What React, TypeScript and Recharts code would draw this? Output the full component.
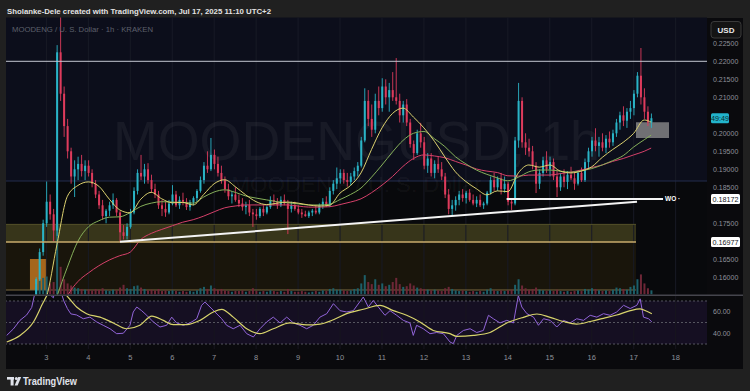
import React from "react";
import { ComposedChart, Bar, Line, XAxis, YAxis, ReferenceLine, ReferenceArea } from "recharts";

const W = 750;
const H = 391;
const FONT = "'Liberation Sans', Arial, sans-serif";

// ---------- time axis: hours since Jul 3, 00:00 (UTC+2) ----------
const DAY_TICKS = [0, 24, 48, 72, 96, 120, 144, 168, 192, 216, 240, 264, 288, 312, 336, 360];
const DAY_LABELS = ["3", "4", "5", "6", "7", "8", "9", "10", "11", "12", "13", "14", "15", "16", "17", "18"];
const CANDLE_START_HOUR = -6;
const CANDLE_STEP_HOURS = 2;

// ---------- candles (2h), Jul 2 18:00 -> Jul 17 10:00 ----------
const OPEN = [
  0.1550, 0.1595, 0.1670,
  0.1750, 0.1810, 0.1775, 0.1730, 0.2225, 0.2110, 0.2020, 0.1950, 0.1880, 0.1900, 0.1915, 0.1895,
  0.1910, 0.1890, 0.1860, 0.1830, 0.1800, 0.1770, 0.1785, 0.1800, 0.1815, 0.1780, 0.1725, 0.1715,
  0.1740, 0.1780, 0.1840, 0.1890, 0.1880, 0.1900, 0.1870, 0.1845, 0.1830, 0.1800, 0.1790, 0.1780,
  0.1805, 0.1830, 0.1800, 0.1815, 0.1810, 0.1795, 0.1808, 0.1820, 0.1840, 0.1870, 0.1910, 0.1900,
  0.1940, 0.1915, 0.1890, 0.1870, 0.1845, 0.1825, 0.1830, 0.1815, 0.1805, 0.1795, 0.1800, 0.1780,
  0.1775, 0.1770, 0.1790, 0.1780, 0.1795, 0.1815, 0.1810, 0.1800, 0.1815, 0.1805, 0.1790, 0.1800,
  0.1790, 0.1780, 0.1775, 0.1770, 0.1780, 0.1785, 0.1780, 0.1800, 0.1810, 0.1800, 0.1840, 0.1860,
  0.1875, 0.1890, 0.1870, 0.1865, 0.1880, 0.1895, 0.1910, 0.1980, 0.2090, 0.2040, 0.2010, 0.2090,
  0.2070, 0.2130, 0.2100, 0.2120, 0.2100, 0.2090, 0.2050, 0.2080, 0.2030, 0.1970, 0.1945, 0.2000,
  0.1975, 0.1910, 0.1930, 0.1890, 0.1915, 0.1900, 0.1880, 0.1830, 0.1790, 0.1800, 0.1815, 0.1830,
  0.1820, 0.1835, 0.1815, 0.1805, 0.1815, 0.1800, 0.1805, 0.1835, 0.1870, 0.1850, 0.1875, 0.1845,
  0.1860, 0.1810, 0.1805, 0.1980, 0.2090, 0.1975, 0.1960, 0.1950, 0.1910, 0.1860, 0.1890, 0.1925,
  0.1900, 0.1920, 0.1880, 0.1850, 0.1880, 0.1865, 0.1885, 0.1875, 0.1860, 0.1890, 0.1870, 0.1920,
  0.1950, 0.1980, 0.1965, 0.1975, 0.1960, 0.1985, 0.1975, 0.2000, 0.2030, 0.2050, 0.2035, 0.2060,
  0.2070, 0.2110, 0.2160, 0.2100, 0.2060, 0.2030,
];
const HIGH = [
  0.1600, 0.1680, 0.1760,
  0.1866, 0.1830, 0.1790, 0.2245, 0.2360, 0.2130, 0.2040, 0.1960, 0.1925, 0.1935, 0.1940, 0.1925,
  0.1925, 0.1900, 0.1870, 0.1840, 0.1815, 0.1790, 0.1810, 0.1833, 0.1820, 0.1785, 0.1745, 0.1750,
  0.1790, 0.1850, 0.1900, 0.1940, 0.1915, 0.1917, 0.1885, 0.1860, 0.1840, 0.1815, 0.1810, 0.1815,
  0.1856, 0.1840, 0.1825, 0.1835, 0.1820, 0.1815, 0.1825, 0.1845, 0.1880, 0.1920, 0.1950, 0.1987,
  0.1955, 0.1935, 0.1910, 0.1880, 0.1860, 0.1840, 0.1850, 0.1830, 0.1820, 0.1810, 0.1815, 0.1790,
  0.1790, 0.1795, 0.1800, 0.1800, 0.1825, 0.1830, 0.1820, 0.1825, 0.1830, 0.1815, 0.1810, 0.1810,
  0.1800, 0.1790, 0.1785, 0.1785, 0.1790, 0.1800, 0.1805, 0.1820, 0.1825, 0.1850, 0.1870, 0.1905,
  0.1900, 0.1900, 0.1890, 0.1890, 0.1905, 0.1920, 0.1990, 0.2125, 0.2120, 0.2080, 0.2110, 0.2130,
  0.2153, 0.2150, 0.2140, 0.2170, 0.2209, 0.2110, 0.2090, 0.2095, 0.2040, 0.1980, 0.2010, 0.2029,
  0.1990, 0.1945, 0.1945, 0.1925, 0.1935, 0.1920, 0.1890, 0.1845, 0.1815, 0.1825, 0.1840, 0.1845,
  0.1840, 0.1845, 0.1830, 0.1825, 0.1830, 0.1810, 0.1840, 0.1880, 0.1890, 0.1880, 0.1890, 0.1880,
  0.1865, 0.1820, 0.1990, 0.2140, 0.2100, 0.2000, 0.1985, 0.1965, 0.1920, 0.1900, 0.1935, 0.1950,
  0.1935, 0.1930, 0.1900, 0.1890, 0.1900, 0.1895, 0.1907, 0.1890, 0.1895, 0.1905, 0.1930, 0.1960,
  0.1990, 0.2014, 0.1990, 0.2000, 0.1995, 0.2005, 0.2010, 0.2040, 0.2060, 0.2075, 0.2070, 0.2090,
  0.2120, 0.2170, 0.2237, 0.2125, 0.2075, 0.2055,
];
const LOW = [
  0.1545, 0.1590, 0.1660,
  0.1740, 0.1760, 0.1700, 0.1715, 0.2090, 0.1990, 0.1930, 0.1860, 0.1823, 0.1870, 0.1880, 0.1870,
  0.1880, 0.1850, 0.1820, 0.1790, 0.1760, 0.1750, 0.1770, 0.1790, 0.1770, 0.1699, 0.1705, 0.1705,
  0.1735, 0.1775, 0.1830, 0.1870, 0.1860, 0.1860, 0.1835, 0.1820, 0.1790, 0.1770, 0.1768, 0.1775,
  0.1800, 0.1795, 0.1790, 0.1800, 0.1787, 0.1785, 0.1800, 0.1810, 0.1835, 0.1860, 0.1890, 0.1895,
  0.1900, 0.1880, 0.1860, 0.1835, 0.1815, 0.1805, 0.1810, 0.1795, 0.1785, 0.1775, 0.1770, 0.1740,
  0.1760, 0.1765, 0.1770, 0.1775, 0.1790, 0.1800, 0.1790, 0.1795, 0.1800, 0.1720, 0.1780, 0.1785,
  0.1775, 0.1765, 0.1768, 0.1765, 0.1770, 0.1775, 0.1775, 0.1790, 0.1795, 0.1795, 0.1830, 0.1845,
  0.1860, 0.1860, 0.1852, 0.1855, 0.1870, 0.1880, 0.1905, 0.1975, 0.2020, 0.1990, 0.2000, 0.2050,
  0.2060, 0.2080, 0.2060, 0.2090, 0.2080, 0.2030, 0.2030, 0.2020, 0.1960, 0.1926, 0.1940, 0.1960,
  0.1900, 0.1890, 0.1880, 0.1875, 0.1890, 0.1870, 0.1820, 0.1775, 0.1773, 0.1785, 0.1800, 0.1810,
  0.1805, 0.1810, 0.1800, 0.1795, 0.1795, 0.1790, 0.1800, 0.1830, 0.1840, 0.1840, 0.1830, 0.1835,
  0.1800, 0.1787, 0.1800, 0.1960, 0.1960, 0.1940, 0.1935, 0.1900, 0.1834, 0.1845, 0.1880, 0.1890,
  0.1880, 0.1870, 0.1823, 0.1840, 0.1850, 0.1845, 0.1870, 0.1843, 0.1855, 0.1865, 0.1865, 0.1900,
  0.1935, 0.1950, 0.1935, 0.1950, 0.1945, 0.1960, 0.1965, 0.1990, 0.2010, 0.2020, 0.2015, 0.2040,
  0.2050, 0.2100, 0.2080, 0.2040, 0.2020, 0.2015,
];
const CLOSE = [
  0.1595, 0.1670, 0.1750,
  0.1810, 0.1775, 0.1730, 0.2225, 0.2110, 0.2020, 0.1950, 0.1880, 0.1900, 0.1915, 0.1895, 0.1910,
  0.1890, 0.1860, 0.1830, 0.1800, 0.1770, 0.1785, 0.1800, 0.1815, 0.1780, 0.1725, 0.1715, 0.1740,
  0.1780, 0.1840, 0.1890, 0.1880, 0.1900, 0.1870, 0.1845, 0.1830, 0.1800, 0.1790, 0.1780, 0.1805,
  0.1830, 0.1800, 0.1815, 0.1810, 0.1795, 0.1808, 0.1820, 0.1840, 0.1870, 0.1910, 0.1900, 0.1940,
  0.1915, 0.1890, 0.1870, 0.1845, 0.1825, 0.1830, 0.1815, 0.1805, 0.1795, 0.1800, 0.1780, 0.1775,
  0.1770, 0.1790, 0.1780, 0.1795, 0.1815, 0.1810, 0.1800, 0.1815, 0.1805, 0.1790, 0.1800, 0.1790,
  0.1780, 0.1775, 0.1770, 0.1780, 0.1785, 0.1780, 0.1800, 0.1810, 0.1800, 0.1840, 0.1860, 0.1875,
  0.1890, 0.1870, 0.1865, 0.1880, 0.1895, 0.1910, 0.1980, 0.2090, 0.2040, 0.2010, 0.2090, 0.2070,
  0.2130, 0.2100, 0.2120, 0.2100, 0.2090, 0.2050, 0.2080, 0.2030, 0.1970, 0.1945, 0.2000, 0.1975,
  0.1910, 0.1930, 0.1890, 0.1915, 0.1900, 0.1880, 0.1830, 0.1790, 0.1800, 0.1815, 0.1830, 0.1820,
  0.1835, 0.1815, 0.1805, 0.1815, 0.1800, 0.1805, 0.1835, 0.1870, 0.1850, 0.1875, 0.1845, 0.1860,
  0.1810, 0.1805, 0.1980, 0.2090, 0.1975, 0.1960, 0.1950, 0.1910, 0.1860, 0.1890, 0.1925, 0.1900,
  0.1920, 0.1880, 0.1850, 0.1880, 0.1865, 0.1885, 0.1875, 0.1860, 0.1890, 0.1870, 0.1920, 0.1950,
  0.1980, 0.1965, 0.1975, 0.1960, 0.1985, 0.1975, 0.2000, 0.2030, 0.2050, 0.2035, 0.2060, 0.2070,
  0.2110, 0.2160, 0.2100, 0.2060, 0.2030, 0.2042,
];
const VOLUME = [
  1.5, 2.0, 2.4,
  2.6, 1.6, 1.8, 10.0, 4.0, 2.2, 1.6, 1.3, 1.0, 0.9, 0.8, 0.7,
  0.7, 0.6, 0.8, 0.7, 0.9, 0.6, 0.5, 0.7, 0.6, 1.0, 1.4, 0.9,
  0.8, 1.2, 1.3, 1.0, 0.8, 0.6, 0.7, 0.6, 0.8, 0.5, 0.6, 0.5,
  0.6, 0.5, 0.4, 0.5, 0.4, 0.5, 0.4, 0.6, 0.9, 1.1, 0.8, 1.3,
  0.9, 0.7, 0.8, 0.6, 0.5, 0.4, 0.5, 0.5, 0.6, 0.4, 0.5, 0.9,
  0.5, 0.4, 0.5, 0.4, 0.6, 0.5, 0.4, 0.5, 0.4, 0.8, 0.5, 0.4,
  0.4, 0.5, 0.4, 0.3, 0.4, 0.5, 0.4, 0.6, 0.5, 0.8, 0.9, 0.7,
  0.7, 0.6, 0.5, 0.6, 0.8, 0.9, 1.6, 2.8, 1.8, 1.5, 2.2, 1.4,
  1.6, 1.2, 1.4, 1.8, 2.4, 1.5, 1.1, 1.2, 1.6, 1.3, 1.0, 0.9,
  0.8, 0.7, 0.6, 0.7, 0.6, 0.5, 0.9, 1.1, 0.8, 0.6, 0.5, 0.6,
  0.5, 0.4, 0.5, 0.4, 0.5, 0.4, 0.7, 0.9, 0.6, 0.5, 0.6, 0.5,
  0.6, 0.7, 1.4, 2.2, 1.3, 0.9, 0.7, 0.8, 1.0, 0.7, 0.6, 0.5,
  0.6, 0.5, 0.7, 0.5, 0.4, 0.5, 0.4, 0.5, 0.6, 0.5, 0.8, 0.7,
  0.9, 0.8, 0.6, 0.5, 0.6, 0.5, 0.7, 1.0, 0.9, 0.8, 0.7, 1.1,
  1.3, 2.2, 2.9, 1.6, 0.9, 0.6,
];

// ---------- moving averages (read every 6h) ----------
const MA_HOURS = [
  -6, 0, 6, 12, 18, 24, 30, 36, 42, 48, 54, 60, 66, 72, 78, 84, 90, 96, 102, 108,
  114, 120, 126, 132, 138, 144, 150, 156, 162, 168, 174, 180, 186, 192, 198, 204, 210, 216, 222, 228,
  234, 240, 246, 252, 258, 264, 270, 276, 282, 288, 294, 300, 306, 312, 318, 324, 330, 336, 342, 346,
];
const MA_FAST = [
  0.1500, 0.1545, 0.1690, 0.1825, 0.1855, 0.1865, 0.1853, 0.1817, 0.1787, 0.1779, 0.1817, 0.1836, 0.1818, 0.1807, 0.1808, 0.1801, 0.1830, 0.1860, 0.1871, 0.1852,
  0.1829, 0.1810, 0.1802, 0.1806, 0.1809, 0.1806, 0.1801, 0.1798, 0.1800, 0.1834, 0.1855, 0.1890, 0.1955, 0.2015, 0.2055, 0.2070, 0.2045, 0.2015, 0.1978, 0.1934,
  0.1893, 0.1866, 0.1846, 0.1829, 0.1840, 0.1838, 0.1890, 0.1912, 0.1906, 0.1912, 0.1895, 0.1890, 0.1895, 0.1907, 0.1933, 0.1955, 0.1975, 0.2000, 0.2037, 0.2031,
];
const MA_MID = [
  0.1400, 0.1450, 0.1546, 0.1628, 0.1700, 0.1740, 0.1757, 0.1767, 0.1768, 0.1780, 0.1797, 0.1806, 0.1810, 0.1809, 0.1808, 0.1806, 0.1823, 0.1837, 0.1843, 0.1836,
  0.1826, 0.1820, 0.1815, 0.1810, 0.1807, 0.1804, 0.1801, 0.1801, 0.1803, 0.1816, 0.1830, 0.1848, 0.1878, 0.1912, 0.1948, 0.1980, 0.2000, 0.2005, 0.1985, 0.1963,
  0.1935, 0.1915, 0.1898, 0.1886, 0.1876, 0.1868, 0.1878, 0.1893, 0.1898, 0.1898, 0.1895, 0.1892, 0.1896, 0.1902, 0.1912, 0.1924, 0.1938, 0.1962, 0.1982, 0.1995,
];
const MA_SLOW = [
  0.1350, 0.1400, 0.1470, 0.1547, 0.1588, 0.1612, 0.1632, 0.1648, 0.1660, 0.1670, 0.1705, 0.1722, 0.1733, 0.1743, 0.1753, 0.1760, 0.1770, 0.1782, 0.1793, 0.1798,
  0.1801, 0.1801, 0.1801, 0.1801, 0.1801, 0.1798, 0.1795, 0.1795, 0.1796, 0.1802, 0.1809, 0.1818, 0.1835, 0.1856, 0.1880, 0.1908, 0.1930, 0.1940, 0.1937, 0.1932,
  0.1922, 0.1912, 0.1901, 0.1895, 0.1891, 0.1882, 0.1881, 0.1884, 0.1884, 0.1884, 0.1888, 0.1892, 0.1898, 0.1905, 0.1912, 0.1922, 0.1930, 0.1940, 0.1950, 0.1959,
];

// ---------- RSI ----------
const RSI_HOURS = [
  -22.7, -18.9, -15.1, -11.3, -8.4, -6.5, -3.5, -0.5, 2, 4, 6, 8, 10, 12, 14, 17.3, 21.1, 24.9, 28.8, 32.5,
  36.4, 40.2, 44, 47.8, 49.7, 51.7, 54.5, 57.4, 61.2, 65, 68.8, 71.7, 74.5, 78.3, 82.2, 86, 88.8, 90.7, 93.6, 96.4,
  100.3, 103.1, 106.9, 110.8, 114.6, 118.4, 122.2, 126, 129.8, 133.7, 137.5, 141.3, 145.1, 148.9, 152.7, 156.5, 160.4, 164.2, 168, 171.8,
  175.6, 181.3, 184.2, 187, 189.9, 193.7, 196.6, 200.4, 204.2, 208, 209.9, 211.8, 215.6, 219.5, 223.3, 227.1, 230.9, 232.8, 234.8, 238.6,
  242.4, 246.2, 250, 252.9, 255.7, 259.5, 263.4, 267.2, 270, 272, 274.9, 278.7, 281.5, 284.4, 288.2, 292, 295.8, 299.6, 303.4, 307.3,
  311.1, 314.9, 318.7, 322.5, 326.3, 330.2, 334, 337.8, 339.7, 341.6, 344.5, 346.4,
];
const RSI_VALUES = [
  38, 44, 52, 57, 64, 78, 86, 82, 76, 73, 90, 80, 70, 63, 58, 57, 53.5, 55, 50.5, 47.4,
  44.2, 39.6, 40, 47.4, 59.8, 64.4, 61, 56.7, 50.5, 45.8, 47.4, 55, 49.6, 47.4, 49.6, 53.5, 66, 69, 64.4, 59.8,
  53.5, 47.4, 44.2, 47.4, 39.6, 36.5, 44.2, 50.5, 55, 49.6, 55, 49.6, 47.4, 44.2, 47.4, 55, 58.2, 67.5, 61, 59.8,
  61, 73.7, 64.4, 70.5, 64.4, 56.7, 61, 56.7, 52, 49.6, 38, 47.4, 44.2, 39.6, 40.7, 39.6, 31.9, 30.3, 38, 42.6,
  44.2, 40.7, 42.6, 56.7, 53.5, 49.6, 52, 49.6, 75, 64.4, 58.2, 55, 47.4, 53.5, 52, 45.8, 52, 49.6, 53.5, 52,
  56.7, 55, 58.2, 56.7, 59.8, 66, 63, 66, 72, 55, 53.5, 50.5,
];
const RSI_MA_HOURS = [
  -22.7, -15.1, -7.4, -1.7, 1, 6, 11.6, 17.3, 23, 30.7, 38.3, 45.9, 53.5, 60.3, 66.9, 72.6, 80.3, 87.9, 95.5, 100.3,
  106.9, 114.6, 122.2, 129.8, 139.4, 148.9, 156.5, 164.2, 171.8, 181.3, 190.8, 198.5, 206.1, 213.7, 221.3, 230.9, 234.8, 244.3, 253.8, 263.4,
  272.9, 280.6, 288.2, 295.8, 303.4, 311.1, 318.7, 326.3, 334, 339.7, 343.5, 346.4,
];
const RSI_MA_VALUES = [
  31.9, 38, 50.5, 69, 77, 84, 75, 64.4, 58.2, 55, 49.6, 44.2, 47.4, 56, 52, 48, 48, 52, 59.8, 62.3,
  55, 44.2, 39.6, 44.2, 49.6, 47.7, 48.5, 52.5, 58.2, 62.3, 66, 61, 56.7, 50.5, 42.6, 39.6, 37.1, 38, 40.7, 49.6,
  54.8, 57.9, 54.8, 50.9, 48.5, 50.9, 53.9, 57, 61, 62.6, 60.4, 58.2,
];

// ---------- axis ticks (those hidden behind price tags are left out, as in the source) ----------
const PRICE_TICKS = [0.16, 0.165, 0.175, 0.185, 0.19, 0.195, 0.2, 0.21, 0.215, 0.22, 0.225];
const RSI_TICKS = [40, 60];

// ---------- drawings (price levels, zones, trendline) ----------
const LEVEL_TOP = 0.22;
const LEVEL_NAVY = 0.18675;
const LEVEL_WO = 0.18172;
const LEVEL_ZONE_BOTTOM = 0.16977;
const ZONE_TOP = 0.1747;
const ZONE_FLOOR = 0.15647;
const ZONE_END_HOUR = 337.3;
const WO_START_HOUR = 263.3;
const WO_END_HOUR = 352.8;
const TREND_START = { t: 42.1, p: 0.1699 };
const TREND_END = { t: 337.9, p: 0.181 };
const ORANGE_BOX = { t1: -9.4, t2: 0.3, p1: 0.15647, p2: 0.1651 };
const GRAY_BOX = { t1: 337.3, t2: 356.2, p1: 0.1987, p2: 0.2031 };
const LAST_PRICE = 0.2042;

// ---------- domains / layout ----------
const X_DOMAIN: [number, number] = [-23.11, 377.94];
const PRICE_DOMAIN: [number, number] = [0.15522, 0.23217];
const VOLUME_DOMAIN: [number, number] = [0, 40];
const RSI_DOMAIN: [number, number] = [25.35, 74.65];
const PRICE_MARGIN_HIDDEN = { top: 17.5, right: 43, bottom: 96.5, left: 6 };
const PRICE_MARGIN_AXIS = { top: 17.5, right: 7, bottom: 96.5, left: 6 };
const RSI_MARGIN = { top: 296, right: 7, bottom: 22, left: 6 };

const UP = "#2ab3c6";
const DOWN = "#de3b5c";
const VOL_UP = "#1d5f69";
const VOL_DOWN = "#6e2737";

type Row = { t: number; o: number; h: number; l: number; c: number; range: [number, number]; v: number; fast?: number; mid?: number; slow?: number };

const priceRows: Row[] = CLOSE.map((c, i) => ({
  t: CANDLE_START_HOUR + i * CANDLE_STEP_HOURS,
  o: OPEN[i],
  h: HIGH[i],
  l: LOW[i],
  c,
  range: [LOW[i], HIGH[i]] as [number, number],
  v: VOLUME[i],
}));
MA_HOURS.forEach((t, i) => {
  const row = priceRows.find((r) => r.t === t);
  if (row) {
    row.fast = MA_FAST[i];
    row.mid = MA_MID[i];
    row.slow = MA_SLOW[i];
  }
});

const rsiRows: { t: number; rsi?: number; rsiMa?: number }[] = [
  ...RSI_HOURS.map((t, i) => ({ t, rsi: RSI_VALUES[i] })),
  ...RSI_MA_HOURS.map((t, i) => ({ t, rsiMa: RSI_MA_VALUES[i] })),
].sort((a, b) => a.t - b.t);

const Candle = (props: any) => {
  const { x, y, width, height, payload } = props;
  if (!payload || payload.h == null || x == null || y == null) return null;
  const top = Math.min(y, y + height);
  const span = Math.abs(height);
  const { o, h, l, c } = payload;
  const r = h - l;
  const toPx = (v: number) => (r > 0 ? top + ((h - v) / r) * span : top);
  const color = c >= o ? UP : DOWN;
  const bTop = toPx(Math.max(o, c));
  const bBot = toPx(Math.min(o, c));
  const cx = x + width / 2;
  return (
    <g>
      <line x1={cx} x2={cx} y1={top} y2={top + span} stroke={color} strokeWidth={0.9} />
      <rect x={x} y={bTop} width={width} height={Math.max(0.8, bBot - bTop)} fill={color} />
    </g>
  );
};

const VolumeBar = (props: any) => {
  const { x, y, width, height, payload } = props;
  if (!payload || !height) return null;
  const top = Math.min(y, y + height);
  return <rect x={x} y={top} width={width} height={Math.abs(height)} fill={payload.c >= payload.o ? VOL_UP : VOL_DOWN} />;
};

const AxisTag = (props: any) => {
  const { viewBox, text, bg, fg, w } = props;
  if (!viewBox) return null;
  const x = viewBox.x + viewBox.width + 4;
  const y = viewBox.y;
  return (
    <g>
      <rect x={x} y={y - 5} width={w} height={10} fill={bg} rx={1.5} />
      <text x={x + w / 2} y={y + 2.6} textAnchor="middle" fontSize={7.2} fill={fg} fontFamily={FONT}>
        {text}
      </text>
    </g>
  );
};

const WoLabel = (props: any) => {
  const { viewBox } = props;
  if (!viewBox) return null;
  const x = viewBox.x + viewBox.width + 2;
  return (
    <text x={x} y={viewBox.y + 2.3} fontSize={6.5} fontWeight={700} fill="#ffffff" fontFamily={FONT}>
      WO ·
    </text>
  );
};

const abs = (top: number): React.CSSProperties => ({ position: "absolute", left: 0, top });

export default function App() {
  const xAxisHidden = <XAxis dataKey="t" type="number" domain={X_DOMAIN} allowDataOverflow hide />;
  return (
    <div style={{ position: "absolute", left: 0, top: 0, width: W, height: H, background: "#202020", overflow: "hidden", fontFamily: FONT }}>
      {/* chart panel background */}
      <div style={{ position: "absolute", left: 6, top: 17.5, width: 737, height: 351.5, background: "#0a0a0d" }} />

      {/* A: zones & grid */}
      <div style={abs(0)}>
        <ComposedChart width={W} height={H} data={priceRows} margin={PRICE_MARGIN_HIDDEN}>
          {xAxisHidden}
          <YAxis type="number" domain={PRICE_DOMAIN} allowDataOverflow hide />
          <ReferenceArea y1={LEVEL_NAVY} y2={PRICE_DOMAIN[1]} fill="#0c0e1b" fillOpacity={1} stroke="none" />
          <ReferenceArea y1={PRICE_DOMAIN[0]} y2={LEVEL_NAVY} fill="#08090c" fillOpacity={1} stroke="none" />
          <ReferenceArea x1={X_DOMAIN[0]} x2={ZONE_END_HOUR} y1={LEVEL_ZONE_BOTTOM} y2={ZONE_TOP} fill="#37351a" fillOpacity={1} stroke="none" />
          <ReferenceArea x1={X_DOMAIN[0]} x2={ZONE_END_HOUR} y1={ZONE_FLOOR} y2={LEVEL_ZONE_BOTTOM} fill="#19150b" fillOpacity={1} stroke="none" />
          <ReferenceArea x1={ORANGE_BOX.t1} x2={ORANGE_BOX.t2} y1={ORANGE_BOX.p1} y2={ORANGE_BOX.p2} fill="#a5661c" fillOpacity={1} stroke="none" />
          <ReferenceArea x1={GRAY_BOX.t1} x2={GRAY_BOX.t2} y1={GRAY_BOX.p1} y2={GRAY_BOX.p2} fill="#707074" fillOpacity={1} stroke="none" />
          {DAY_TICKS.map((t) => (
            <ReferenceLine key={t} x={t} stroke="#181a26" strokeWidth={1} />
          ))}
          <ReferenceLine y={LEVEL_NAVY} stroke="#222c4c" strokeWidth={1} />
          <ReferenceLine segment={[{ x: X_DOMAIN[0], y: ZONE_TOP }, { x: ZONE_END_HOUR, y: ZONE_TOP }]} stroke="#56532a" strokeWidth={1} />
          <ReferenceLine segment={[{ x: X_DOMAIN[0], y: ZONE_FLOOR }, { x: ZONE_END_HOUR, y: ZONE_FLOOR }]} stroke="#7d6a40" strokeWidth={1} />
        </ComposedChart>
      </div>

      {/* watermark */}
      <svg width={W} height={H} style={abs(0)}>
        <text x={356.5} y={160} textAnchor="middle" fontSize={56} fill="#ffffff" fillOpacity={0.05} fontFamily={FONT} textLength={487} lengthAdjust="spacingAndGlyphs">
          MOODENGUSD, 1h
        </text>
        <text x={356.5} y={192} textAnchor="middle" fontSize={22} fill="#ffffff" fillOpacity={0.05} fontFamily={FONT} textLength={250} lengthAdjust="spacingAndGlyphs">
          MOODENG / U. S. Dollar
        </text>
      </svg>

      {/* B: volume */}
      <div style={abs(0)}>
        <ComposedChart width={W} height={H} data={priceRows} margin={PRICE_MARGIN_HIDDEN}>
          {xAxisHidden}
          <YAxis type="number" domain={VOLUME_DOMAIN} allowDataOverflow hide />
          <Bar dataKey="v" barSize={2} shape={VolumeBar} isAnimationActive={false} />
        </ComposedChart>
      </div>

      {/* C: candles, MAs, drawings, price axis */}
      <div style={abs(0)}>
        <ComposedChart width={W} height={H} data={priceRows} margin={PRICE_MARGIN_AXIS}>
          {xAxisHidden}
          <YAxis
            type="number"
            orientation="right"
            width={36}
            domain={PRICE_DOMAIN}
            allowDataOverflow
            ticks={PRICE_TICKS}
            interval={0}
            tickFormatter={(v: number) => v.toFixed(5)}
            tick={{ fontSize: 7, fill: "#8f929b", fontFamily: FONT }}
            tickSize={0}
            tickMargin={6}
            axisLine={false}
            tickLine={false}
          />
          <Bar dataKey="range" barSize={2} shape={Candle} isAnimationActive={false} />
          <Line dataKey="slow" type="monotone" stroke="#d6416a" strokeWidth={1} dot={false} connectNulls isAnimationActive={false} />
          <Line dataKey="mid" type="monotone" stroke="#86b05a" strokeWidth={1} dot={false} connectNulls isAnimationActive={false} />
          <Line dataKey="fast" type="monotone" stroke="#ddd270" strokeWidth={1} dot={false} connectNulls isAnimationActive={false} />
          <ReferenceLine y={LEVEL_TOP} stroke="#c3c7d1" strokeWidth={1} />
          <ReferenceLine
            segment={[{ x: X_DOMAIN[0], y: LEVEL_ZONE_BOTTOM }, { x: ZONE_END_HOUR, y: LEVEL_ZONE_BOTTOM }]}
            stroke="#c8ab6c"
            strokeWidth={1.5}
          />
          <ReferenceLine
            segment={[{ x: TREND_START.t, y: TREND_START.p }, { x: TREND_END.t, y: TREND_END.p }]}
            stroke="#f4f4f4"
            strokeWidth={2}
          />
          <ReferenceLine
            segment={[{ x: WO_START_HOUR, y: LEVEL_WO }, { x: WO_END_HOUR, y: LEVEL_WO }]}
            stroke="#f4f4f4"
            strokeWidth={2}
            label={(p: any) => <WoLabel {...p} />}
          />
        </ComposedChart>
      </div>

      {/* E: axis tags */}
      <div style={abs(0)}>
        <ComposedChart width={W} height={H} data={priceRows} margin={PRICE_MARGIN_HIDDEN}>
          {xAxisHidden}
          <YAxis type="number" domain={PRICE_DOMAIN} allowDataOverflow hide />
          <ReferenceLine y={LEVEL_WO} stroke="none" label={(p: any) => <AxisTag {...p} text="0.18172" bg="#ffffff" fg="#131722" w={29} />} />
          <ReferenceLine y={LEVEL_ZONE_BOTTOM} stroke="none" label={(p: any) => <AxisTag {...p} text="0.16977" bg="#ffffff" fg="#131722" w={29} />} />
          <ReferenceLine y={LAST_PRICE} stroke="none" label={(p: any) => <AxisTag {...p} text="49:49" bg="#22b4cb" fg="#0b2a30" w={18} />} />
        </ComposedChart>
      </div>

      {/* D: RSI panel */}
      <div style={abs(0)}>
        <ComposedChart width={W} height={H} data={rsiRows} margin={RSI_MARGIN}>
          <XAxis
            dataKey="t"
            type="number"
            domain={X_DOMAIN}
            allowDataOverflow
            ticks={DAY_TICKS}
            interval={0}
            tickFormatter={(v: number) => DAY_LABELS[DAY_TICKS.indexOf(v)] ?? ""}
            tick={{ fontSize: 7.5, fill: "#8f929b", fontFamily: FONT }}
            tickSize={0}
            tickMargin={6}
            axisLine={false}
            tickLine={false}
            height={20}
          />
          <YAxis
            type="number"
            orientation="right"
            width={36}
            domain={RSI_DOMAIN}
            allowDataOverflow
            ticks={RSI_TICKS}
            interval={0}
            tickFormatter={(v: number) => v.toFixed(2)}
            tick={{ fontSize: 7, fill: "#8f929b", fontFamily: FONT }}
            tickSize={0}
            tickMargin={6}
            axisLine={false}
            tickLine={false}
          />
          <ReferenceArea y1={30} y2={70} fill="#150f22" fillOpacity={1} stroke="none" />
          {DAY_TICKS.map((t) => (
            <ReferenceLine key={t} x={t} stroke="#17151f" strokeWidth={1} />
          ))}
          <ReferenceLine y={70} stroke="#55555f" strokeDasharray="2 2" />
          <ReferenceLine y={50} stroke="#55555f" strokeDasharray="2 2" />
          <ReferenceLine y={30} stroke="#55555f" strokeDasharray="2 2" />
          <Line dataKey="rsi" type="linear" stroke="#9164d8" strokeWidth={1} dot={false} connectNulls isAnimationActive={false} />
          <Line dataKey="rsiMa" type="monotone" stroke="#d8d46c" strokeWidth={1.2} dot={false} connectNulls isAnimationActive={false} />
        </ComposedChart>
      </div>

      {/* header, legend, separators, logo */}
      <svg width={W} height={H} style={abs(0)}>
        <text x={7} y={13.5} fontSize={8} fontWeight={700} fill="#e3e3e3" fontFamily={FONT} textLength={264} lengthAdjust="spacingAndGlyphs">
          Sholanke-Dele created with TradingView.com, Jul 17, 2025 11:10 UTC+2
        </text>
        <text x={12} y={31.5} fontSize={7} fill="#5d606b" fontFamily={FONT} textLength={141} lengthAdjust="spacingAndGlyphs">
          MOODENG / U. S. Dollar · 1h · KRAKEN
        </text>
        <rect x={711} y={21.5} width={30} height={16.5} rx={3} fill="#141414" stroke="#3a3a3a" strokeWidth={1} />
        <text x={726} y={32.5} textAnchor="middle" fontSize={8} fontWeight={700} fill="#e8e8e8" fontFamily={FONT}>
          USD
        </text>
        <rect x={6} y={294.5} width={737} height={1.5} fill="#45454d" />
        <rect x={7} y={377} width={7} height={2.6} fill="#e0e3eb" />
        <rect x={10.6} y={377} width={3} height={8.5} fill="#e0e3eb" />
        <circle cx={16.3} cy={378.4} r={1.5} fill="#e0e3eb" />
        <polygon points="18.2,377 21.2,377 17.6,385.5 14.6,385.5" fill="#e0e3eb" />
        <text x={23} y={385} fontSize={10} fontWeight={600} fill="#e0e3eb" fontFamily={FONT} textLength={54} lengthAdjust="spacingAndGlyphs">
          TradingView
        </text>
      </svg>
    </div>
  );
}
